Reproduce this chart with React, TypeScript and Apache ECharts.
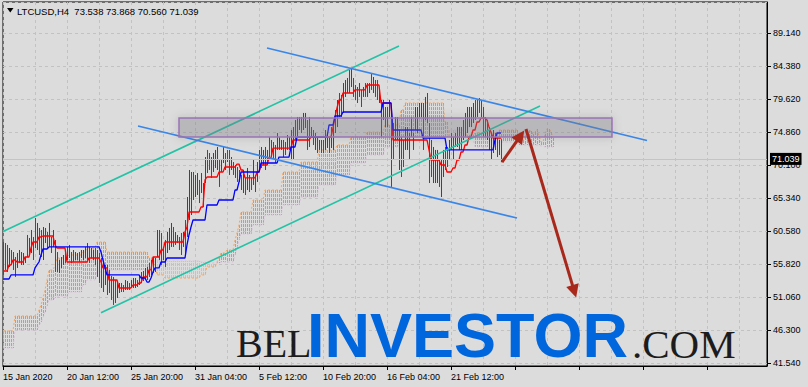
import React, { useEffect, useRef } from 'react';
import * as echarts from 'echarts';

// ---------- data ----------
const symbolName = 'LTCUSD,H4';
const lastQuote = [73.538, 73.868, 70.56, 71.039]; // O H L C of the last bar

const xLabels = ['15 Jan 2020', '20 Jan 12:00', '25 Jan 20:00', '31 Jan 04:00', '5 Feb 12:00', '10 Feb 20:00', '16 Feb 04:00', '21 Feb 12:00'];
const yLabels = ['41.540', '46.300', '51.060', '55.820', '60.580', '65.340', '70.100', '74.860', '79.620', '84.380', '89.140'];
const yTickBase = 41.54;
const yTickStep = 4.76;

// [open, high, low, close], one per H4 bar
const bars: number[][] = [
  [57.6, 59.05, 54.29, 55.7], [57.7, 58.9, 55.01, 56.2], [57.4, 58.62, 54.72, 55.9], [56.3, 58.18, 55.44, 57.4], [57.2, 57.89, 55.73, 56.4],
  [56.8, 57.6, 55.01, 55.8], [56.0, 56.88, 54.0, 54.9], [55.9, 57.46, 55.3, 56.8], [56.6, 57.89, 56.02, 57.3], [56.3, 57.6, 55.73, 57.0],
  [56.3, 57.46, 55.73, 56.9], [56.3, 56.88, 56.02, 56.6], [59.1, 60.06, 56.88, 57.8], [57.9, 59.63, 57.17, 58.9], [58.5, 60.78, 57.46, 59.8],
  [58.8, 59.77, 56.45, 57.4], [61.2, 62.51, 58.18, 59.5], [59.1, 61.79, 57.89, 60.6], [59.9, 61.07, 57.17, 58.3], [59.6, 60.78, 56.88, 58.1],
  [57.9, 61.21, 56.45, 59.8], [59.6, 61.07, 58.9, 60.4], [59.8, 60.49, 58.18, 58.9], [59.4, 61.79, 58.33, 60.8], [59.1, 59.77, 57.46, 58.2],
  [59.1, 60.78, 58.33, 60.0], [57.9, 59.34, 54.72, 56.1], [56.7, 57.6, 54.72, 55.6], [55.1, 56.45, 54.57, 55.9], [55.8, 56.88, 55.3, 56.4],
  [56.2, 57.17, 55.73, 56.7], [57.3, 57.89, 56.02, 56.6], [57.0, 58.33, 56.45, 57.8], [57.3, 58.62, 56.74, 58.1], [57.1, 57.6, 56.02, 56.5],
  [57.4, 57.89, 56.16, 56.7], [56.8, 57.6, 56.45, 57.3], [57.2, 57.46, 56.45, 56.7], [57.2, 57.6, 56.16, 56.6], [57.1, 57.89, 56.74, 57.6],
  [56.9, 57.89, 56.45, 57.5], [57.2, 58.33, 56.74, 57.9], [57.2, 58.9, 56.45, 58.2], [57.6, 58.33, 56.02, 56.7], [57.2, 58.18, 56.74, 57.8],
  [56.9, 57.89, 56.45, 57.5], [57.4, 58.18, 55.73, 56.5], [56.7, 57.89, 54.0, 55.2], [56.2, 57.46, 53.13, 54.4], [55.4, 56.74, 52.41, 53.7],
  [54.9, 56.16, 51.83, 53.1], [53.7, 55.73, 52.84, 54.9], [54.4, 55.73, 51.4, 52.7], [54.0, 55.01, 51.69, 52.7], [53.1, 54.14, 50.68, 51.7],
  [52.8, 54.0, 49.96, 51.2], [52.6, 53.56, 50.24, 51.2], [51.7, 53.27, 50.96, 52.6], [52.1, 53.13, 51.69, 52.7], [52.7, 53.13, 51.83, 52.2],
  [52.5, 52.84, 51.83, 52.1], [52.5, 53.56, 52.12, 53.1], [52.5, 53.42, 52.12, 53.0], [52.8, 53.13, 52.12, 52.4], [52.8, 53.56, 52.41, 53.2],
  [52.8, 53.85, 52.41, 53.4], [52.9, 53.85, 52.41, 53.5], [53.3, 53.56, 52.55, 52.8], [53.3, 54.29, 52.84, 53.9], [53.6, 54.72, 53.13, 54.3],
  [53.9, 54.86, 53.42, 54.4], [54.1, 55.3, 53.56, 54.8], [54.1, 55.44, 53.56, 54.9], [55.4, 56.02, 54.0, 54.6], [54.9, 56.45, 54.29, 55.8],
  [55.3, 56.88, 54.57, 56.2], [55.3, 56.74, 54.72, 56.1], [58.0, 60.78, 56.88, 59.6], [59.5, 60.78, 56.45, 57.7], [59.0, 60.35, 55.73, 57.1],
  [57.0, 58.33, 56.45, 57.8], [58.2, 59.34, 55.44, 56.6], [58.4, 60.49, 57.46, 59.6], [58.8, 61.07, 57.89, 60.1], [59.4, 61.79, 58.33, 60.8],
  [60.3, 61.21, 58.33, 59.2], [59.2, 60.49, 58.62, 59.9], [59.3, 60.06, 58.9, 59.7], [59.2, 59.77, 57.89, 58.5], [59.4, 60.35, 57.17, 58.1],
  [59.0, 60.49, 58.33, 59.8], [60.8, 62.22, 57.46, 58.9], [61.5, 65.54, 59.77, 63.8], [64.4, 69.44, 62.22, 67.3], [64.8, 69.15, 62.94, 67.3],
  [67.9, 69.15, 65.11, 66.3], [66.5, 68.72, 65.54, 67.8], [66.8, 69.0, 65.83, 68.0], [67.0, 68.0, 64.67, 65.7], [67.0, 69.0, 66.12, 68.1],
  [66.5, 67.56, 64.1, 65.1], [68.7, 71.31, 67.56, 70.2], [71.3, 72.33, 69.0, 70.0], [71.2, 71.89, 69.44, 70.2], [70.4, 71.31, 68.29, 69.2],
  [70.0, 71.89, 69.15, 71.1], [70.5, 72.33, 69.73, 71.5], [70.4, 72.76, 69.44, 71.8], [69.7, 70.88, 66.99, 68.2], [69.7, 70.88, 69.15, 70.4],
  [71.1, 72.76, 70.45, 72.1], [71.2, 71.89, 69.44, 70.2], [71.8, 72.33, 70.59, 71.1], [71.2, 72.33, 68.72, 69.8], [70.0, 71.31, 69.44, 70.8],
  [70.0, 70.59, 68.72, 69.3], [68.9, 70.16, 68.29, 69.6], [69.2, 69.87, 67.71, 68.4], [68.2, 69.44, 67.71, 68.9], [68.1, 68.72, 66.55, 67.2],
  [67.1, 69.44, 66.12, 68.4], [67.6, 68.29, 65.83, 66.6], [67.5, 69.73, 66.55, 68.8], [68.0, 68.72, 66.26, 67.0], [67.8, 68.29, 66.55, 67.1],
  [68.4, 70.88, 67.28, 69.8], [68.0, 68.72, 66.26, 67.0], [68.6, 70.59, 67.71, 69.7], [70.3, 72.33, 69.44, 71.5], [70.6, 72.76, 69.73, 71.9],
  [70.8, 72.33, 70.16, 71.7], [70.4, 72.76, 69.44, 71.8], [70.8, 72.33, 70.16, 71.7], [73.2, 74.2, 70.88, 71.9], [73.0, 73.77, 71.31, 72.0],
  [72.7, 73.48, 70.88, 71.7], [72.3, 73.05, 70.45, 71.2], [73.1, 74.78, 72.33, 74.0], [72.9, 74.2, 72.33, 73.6], [72.8, 73.77, 72.33, 73.3],
  [73.0, 73.77, 71.31, 72.0], [72.9, 73.48, 71.6, 72.2], [73.0, 74.49, 72.33, 73.8], [73.6, 74.2, 72.33, 72.9], [72.2, 75.21, 70.88, 73.9],
  [72.3, 75.64, 70.88, 74.2], [74.6, 76.66, 73.77, 75.8], [75.1, 77.09, 74.2, 76.2], [75.8, 77.09, 75.21, 76.5], [76.4, 77.09, 74.78, 75.5],
  [75.9, 77.67, 75.21, 76.9], [76.1, 77.67, 75.5, 77.0], [75.4, 76.66, 72.33, 73.6], [75.8, 77.09, 72.76, 74.1], [74.6, 75.64, 74.2, 75.2],
  [74.6, 75.21, 73.05, 73.7], [73.1, 74.78, 72.33, 74.0], [73.5, 74.2, 71.89, 72.6], [72.8, 73.77, 72.33, 73.3], [73.2, 73.77, 71.89, 72.5],
  [73.3, 73.77, 71.89, 72.4], [73.2, 75.21, 72.33, 74.3], [73.3, 74.78, 72.61, 74.1], [73.5, 74.2, 71.89, 72.6], [73.5, 75.64, 72.61, 74.7],
  [73.5, 76.22, 72.33, 75.0], [75.8, 78.1, 74.78, 77.1], [76.8, 79.54, 75.64, 78.4], [79.5, 80.55, 77.09, 78.1], [79.3, 80.27, 77.09, 78.0],
  [79.0, 81.99, 77.67, 80.7], [80.7, 82.43, 79.98, 81.7], [81.2, 82.72, 80.55, 82.1], [82.9, 83.87, 80.55, 81.5], [82.2, 84.16, 81.42, 83.3],
  [81.9, 82.72, 79.98, 80.8], [81.1, 81.71, 79.54, 80.2], [80.7, 81.42, 79.11, 79.8], [80.6, 81.99, 79.98, 81.4], [80.3, 80.99, 78.53, 79.3],
  [80.4, 81.42, 79.98, 81.0], [81.4, 81.99, 79.98, 80.6], [81.4, 81.99, 79.98, 80.6], [81.0, 81.99, 80.55, 81.6], [82.7, 83.44, 80.99, 81.7],
  [81.2, 82.86, 80.55, 82.2], [81.7, 82.43, 79.98, 80.7], [81.6, 82.43, 79.54, 80.4], [79.7, 80.99, 79.11, 80.4], [77.9, 79.54, 74.2, 75.8],
  [77.5, 79.54, 76.66, 78.7], [77.7, 78.53, 75.64, 76.5], [77.7, 78.53, 75.64, 76.5], [77.8, 79.54, 77.09, 78.8], [74.1, 77.09, 66.99, 70.0],
  [74.6, 76.22, 70.88, 72.5], [74.8, 77.09, 73.77, 76.1], [74.8, 77.09, 73.77, 76.1], [71.2, 75.21, 69.44, 73.5], [72.5, 74.2, 68.43, 70.2],
  [72.6, 73.77, 69.87, 71.0], [73.3, 75.64, 72.33, 74.6], [73.3, 75.64, 72.33, 74.6], [73.6, 74.78, 70.88, 72.1], [75.1, 77.09, 74.2, 76.2],
  [74.0, 74.78, 72.33, 73.1], [76.2, 78.53, 75.21, 77.5], [75.9, 78.53, 74.78, 77.4], [77.7, 79.11, 77.09, 78.5], [77.7, 79.11, 77.09, 78.5],
  [77.1, 79.11, 72.33, 74.4], [77.7, 79.98, 76.66, 79.0], [79.2, 80.55, 76.22, 77.5], [73.6, 76.22, 67.56, 70.2], [72.2, 73.77, 68.43, 70.0],
  [69.1, 72.76, 67.56, 71.2], [69.0, 72.33, 67.56, 70.9], [69.0, 72.33, 67.56, 70.9], [69.7, 70.88, 66.99, 68.2], [67.1, 70.88, 65.54, 69.3],
  [69.6, 72.33, 68.43, 71.2], [71.8, 72.76, 69.44, 70.4], [71.9, 72.76, 69.87, 70.7], [71.7, 73.77, 70.88, 72.9], [73.1, 74.78, 72.33, 74.0],
  [73.2, 74.2, 70.88, 71.9], [73.4, 74.78, 72.76, 74.2], [73.6, 75.64, 72.76, 74.8], [74.6, 75.64, 72.33, 73.3], [74.6, 75.64, 72.33, 73.3],
  [74.6, 76.66, 73.77, 75.8], [75.2, 77.67, 74.2, 76.6], [75.9, 78.53, 74.78, 77.4], [76.5, 78.53, 75.64, 77.7], [76.5, 78.53, 75.64, 77.7],
  [77.1, 79.11, 76.22, 78.2], [78.7, 79.54, 76.66, 77.5], [78.8, 79.54, 77.09, 77.8], [79.2, 79.83, 77.67, 78.3], [78.8, 79.54, 77.09, 77.8],
  [77.2, 78.53, 74.2, 75.5], [76.2, 77.09, 74.2, 75.1], [74.6, 76.66, 73.77, 75.8], [73.3, 75.64, 72.33, 74.6], [72.0, 74.78, 70.88, 73.6],
  [72.9, 75.21, 71.89, 74.2], [73.1, 74.78, 72.33, 74.0], [73.3, 74.2, 71.31, 72.2], [72.3, 73.77, 71.6, 73.5], [73.538, 73.868, 70.56, 71.039],
];

// Ichimoku Tenkan-sen (one per bar)
const tenkan = [
  54.86, 54.86, 54.86, 55.73, 55.73, 56.45, 56.45, 56.16, 56.16, 56.16,
  56.16, 56.88, 56.88, 56.88, 58.18, 59.05, 59.05, 59.05, 59.77, 59.77,
  59.91, 59.91, 59.91, 59.91, 59.91, 59.91, 58.62, 58.18, 58.18, 58.18,
  58.18, 58.18, 56.16, 56.16, 56.16, 56.16, 56.16, 56.16, 56.16, 56.16,
  56.16, 56.16, 56.16, 56.74, 56.74, 56.74, 56.74, 56.74, 56.74, 56.16,
  55.3, 55.3, 55.3, 53.56, 53.56, 53.56, 53.56, 53.56, 52.41, 52.41,
  52.41, 52.41, 52.41, 52.41, 52.41, 52.84, 52.84, 52.84, 53.13, 53.13,
  54.0, 54.0, 54.0, 55.01, 55.01, 56.88, 56.88, 56.88, 56.88, 57.89,
  57.89, 59.05, 59.05, 59.05, 59.05, 59.05, 59.05, 59.05, 59.05, 59.05,
  59.05, 60.49, 61.21, 63.38, 63.38, 63.38, 63.38, 63.38, 63.38, 64.1,
  64.1, 68.0, 68.43, 68.43, 68.43, 68.43, 68.43, 68.43, 69.15, 69.15,
  69.15, 69.87, 69.87, 69.87, 69.87, 69.87, 69.87, 70.3, 70.3, 69.44,
  69.44, 68.29, 68.29, 68.29, 68.29, 68.29, 68.29, 69.15, 69.15, 70.16,
  70.16, 70.16, 70.16, 71.17, 71.17, 72.61, 72.61, 72.61, 72.61, 72.61,
  72.61, 72.61, 72.61, 72.61, 72.61, 73.77, 73.77, 73.77, 73.77, 73.77,
  73.77, 73.77, 73.77, 73.77, 74.2, 74.2, 74.2, 74.2, 74.2, 74.2,
  74.2, 74.2, 74.2, 74.2, 74.2, 75.5, 77.09, 78.39, 79.54, 79.54,
  80.55, 80.55, 80.55, 80.55, 80.55, 80.55, 80.99, 80.99, 80.99, 80.99,
  80.99, 80.99, 81.71, 81.71, 81.71, 81.71, 81.71, 81.71, 81.71, 79.11,
  79.11, 79.11, 79.11, 79.11, 79.11, 73.77, 73.77, 73.77, 73.77, 73.77,
  73.77, 73.77, 73.77, 73.77, 73.77, 73.77, 73.77, 73.77, 73.77, 73.77,
  73.77, 73.77, 73.77, 72.33, 70.88, 70.88, 70.88, 70.88, 70.88, 70.16,
  70.16, 70.16, 69.15, 69.15, 69.15, 69.73, 69.73, 70.88, 70.88, 72.04,
  72.04, 73.05, 73.05, 74.2, 74.2, 75.21, 75.21, 76.37, 76.37, 76.94,
  76.94, 76.94, 76.66, 75.64, 74.92, 74.06, 74.06, 74.06, 74.06, 74.06,
];

// Ichimoku Kijun-sen (one per bar)
const kijun = [
  53.71, 53.71, 53.71, 53.71, 54.29, 54.29, 54.29, 54.29, 54.29, 54.29,
  54.29, 54.29, 54.29, 54.29, 54.29, 54.29, 55.3, 55.73, 56.16, 57.17,
  58.04, 58.04, 58.04, 58.33, 58.33, 58.33, 58.33, 58.33, 58.33, 58.33,
  58.33, 58.33, 58.33, 58.33, 58.33, 58.33, 58.33, 58.33, 58.33, 58.33,
  58.33, 58.33, 58.33, 58.33, 58.33, 58.33, 58.33, 58.33, 58.33, 57.6,
  56.45, 55.3, 54.29, 54.29, 54.29, 54.29, 54.29, 54.29, 54.29, 54.29,
  54.29, 54.29, 54.29, 54.29, 54.29, 54.29, 54.29, 54.29, 54.29, 53.85,
  53.85, 53.85, 53.27, 53.27, 53.85, 54.72, 55.3, 55.3, 55.3, 56.16,
  56.16, 56.16, 56.74, 56.74, 56.74, 56.74, 56.74, 56.74, 56.74, 56.74,
  56.74, 56.74, 58.62, 60.06, 61.21, 62.22, 62.22, 62.22, 62.22, 62.22,
  62.22, 62.22, 64.39, 64.39, 64.39, 64.39, 64.39, 64.39, 65.11, 65.11,
  65.11, 65.11, 65.11, 65.11, 65.11, 65.11, 66.55, 66.55, 67.71, 69.15,
  69.15, 69.15, 69.15, 69.15, 69.15, 69.15, 69.15, 69.15, 69.15, 70.45,
  70.45, 70.45, 70.45, 70.45, 70.45, 70.45, 70.45, 70.45, 71.31, 71.31,
  71.31, 71.31, 71.31, 71.31, 72.76, 72.76, 72.76, 74.2, 74.2, 74.2,
  74.2, 74.2, 74.2, 74.2, 74.2, 74.2, 74.2, 74.2, 74.2, 74.2,
  74.2, 74.2, 74.2, 75.93, 75.93, 75.93, 77.23, 77.23, 77.23, 77.23,
  77.81, 77.81, 77.81, 77.81, 77.81, 77.81, 77.81, 77.81, 77.81, 77.81,
  77.81, 77.81, 77.81, 77.81, 77.81, 77.81, 77.81, 77.81, 77.81, 77.81,
  79.11, 79.11, 79.11, 79.11, 79.11, 75.21, 75.21, 75.21, 75.21, 75.21,
  75.21, 75.21, 75.21, 75.21, 75.21, 75.21, 75.21, 75.21, 75.21, 75.21,
  74.06, 74.06, 74.06, 74.06, 74.06, 74.06, 74.06, 74.06, 74.06, 74.06,
  74.06, 74.06, 72.33, 72.33, 72.33, 72.33, 72.33, 72.33, 72.33, 72.33,
  72.33, 72.33, 72.33, 72.33, 72.33, 72.33, 72.33, 72.33, 72.33, 72.33,
  72.33, 72.33, 72.33, 72.33, 72.33, 72.33, 73.77, 74.78, 74.78, 74.78,
];

// Senkou Span A / B (already shifted 26 bars ahead: 276 values)
const spanA = [
  46.2, 46.2, 46.2, 46.2, 46.2, 46.2, 48.37, 48.37, 48.37, 48.37,
  48.37, 48.37, 48.37, 48.37, 48.37, 48.37, 48.37, 48.37, 49.23, 49.96,
  50.96, 52.12, 53.56, 55.01, 55.01, 55.01, 55.73, 56.74, 56.74, 56.74,
  56.74, 56.74, 56.74, 57.17, 57.17, 57.17, 57.17, 57.17, 57.17, 57.17,
  57.6, 57.6, 58.18, 58.18, 58.18, 58.18, 58.18, 59.05, 59.05, 59.05,
  59.05, 59.05, 57.6, 57.6, 57.6, 57.6, 57.6, 57.6, 57.6, 57.6,
  57.6, 57.6, 57.6, 57.6, 57.6, 57.6, 57.6, 57.6, 57.6, 57.6,
  57.6, 57.6, 57.6, 56.74, 56.74, 56.74, 55.73, 54.29, 54.29, 54.29,
  54.29, 53.85, 53.85, 53.85, 53.85, 53.85, 53.85, 53.85, 53.85, 53.85,
  53.85, 53.85, 53.85, 53.85, 53.85, 53.85, 53.85, 53.85, 53.85, 54.29,
  54.29, 54.29, 55.44, 55.44, 55.44, 55.44, 55.44, 56.16, 56.74, 57.46,
  57.46, 57.46, 57.89, 57.89, 57.89, 57.89, 59.34, 60.35, 61.5, 63.38,
  63.38, 63.38, 63.38, 63.38, 63.38, 65.11, 65.11, 65.11, 65.11, 65.11,
  65.11, 66.55, 66.55, 66.55, 66.55, 66.55, 66.55, 66.55, 66.55, 66.55,
  69.15, 69.15, 69.15, 69.15, 69.15, 69.15, 69.15, 69.15, 69.15, 70.59,
  70.59, 70.59, 70.59, 70.59, 70.59, 70.59, 70.59, 70.59, 72.33, 72.33,
  72.33, 72.33, 72.33, 72.33, 72.33, 72.33, 72.33, 73.05, 73.05, 73.05,
  73.05, 73.05, 73.05, 73.05, 74.2, 74.2, 74.2, 74.2, 74.2, 74.2,
  74.2, 74.2, 74.92, 74.92, 74.92, 74.92, 74.92, 74.92, 74.92, 74.92,
  74.92, 75.93, 75.93, 75.93, 75.93, 75.93, 75.93, 75.93, 75.93, 78.1,
  78.1, 79.11, 79.11, 79.11, 79.11, 79.11, 79.11, 79.11, 79.11, 79.11,
  79.11, 79.11, 79.11, 79.11, 79.11, 79.11, 79.11, 79.11, 79.11, 79.11,
  79.11, 76.37, 76.37, 74.2, 74.2, 74.2, 74.2, 74.2, 74.2, 74.2,
  74.2, 74.49, 74.49, 74.49, 74.49, 74.49, 74.78, 74.78, 74.78, 74.78,
  74.78, 74.78, 74.78, 74.78, 74.78, 74.78, 74.78, 74.78, 75.21, 75.21,
  75.21, 75.21, 75.21, 75.21, 75.21, 75.21, 75.21, 75.21, 73.77, 73.77,
  73.77, 74.2, 74.9, 75.2, 75.0, 74.6, 74.9, 75.3, 74.4, 73.48,
  73.48, 74.6, 75.4, 75.4, 74.9, 74.1,
];
const spanB = [
  43.75, 43.75, 43.75, 43.75, 43.75, 43.75, 46.35, 46.35, 46.35, 46.35,
  46.35, 46.35, 46.35, 46.35, 46.35, 46.35, 46.35, 46.35, 46.92, 47.5,
  48.08, 48.94, 49.81, 50.68, 50.68, 50.68, 50.96, 51.25, 51.25, 51.25,
  51.25, 51.25, 51.25, 51.83, 51.83, 51.83, 51.83, 51.83, 51.83, 51.83,
  52.84, 52.84, 53.56, 53.56, 53.56, 53.56, 53.56, 54.72, 54.72, 54.72,
  54.72, 54.72, 55.01, 55.01, 55.01, 55.01, 55.01, 55.01, 55.01, 55.01,
  55.01, 55.01, 55.01, 55.01, 55.01, 55.01, 55.01, 55.01, 55.01, 55.01,
  55.01, 55.01, 55.01, 55.58, 55.58, 55.58, 56.16, 56.45, 56.45, 56.45,
  56.45, 56.3, 56.3, 56.3, 56.3, 56.3, 56.3, 56.3, 56.3, 56.3,
  56.3, 56.3, 56.3, 56.3, 56.3, 56.3, 56.3, 56.3, 56.3, 56.16,
  56.16, 56.16, 56.02, 56.02, 56.02, 56.02, 56.02, 56.02, 56.02, 56.16,
  56.16, 56.16, 56.16, 56.16, 56.16, 56.16, 57.17, 58.18, 59.34, 60.2,
  60.2, 60.2, 60.2, 60.2, 60.2, 61.5, 61.5, 61.5, 61.5, 61.5,
  61.5, 62.94, 62.94, 62.94, 62.94, 62.94, 62.94, 62.94, 62.94, 62.94,
  64.39, 64.39, 64.39, 64.39, 64.39, 64.39, 64.39, 64.39, 64.39, 65.54,
  65.54, 65.54, 65.54, 65.54, 65.54, 65.54, 65.54, 65.54, 67.28, 67.28,
  67.28, 67.28, 67.28, 67.28, 67.28, 67.28, 67.28, 68.72, 68.72, 68.72,
  68.72, 68.72, 68.72, 68.72, 70.45, 70.45, 70.45, 70.45, 70.45, 70.45,
  70.45, 70.45, 71.6, 71.6, 71.6, 71.6, 71.6, 71.6, 71.6, 71.6,
  71.6, 72.76, 72.76, 72.76, 72.76, 72.76, 72.76, 72.76, 72.76, 74.2,
  74.2, 74.2, 74.2, 74.2, 74.2, 74.2, 74.2, 74.2, 74.2, 74.2,
  74.2, 74.2, 74.2, 74.2, 74.2, 74.2, 74.2, 74.2, 74.2, 74.2,
  74.2, 74.2, 74.2, 75.21, 75.21, 75.21, 75.21, 75.21, 75.21, 75.21,
  75.21, 74.06, 74.06, 74.06, 74.06, 74.06, 72.76, 72.76, 72.76, 72.76,
  72.76, 72.76, 72.76, 72.76, 72.76, 72.76, 72.76, 72.76, 73.48, 73.48,
  73.48, 73.48, 73.48, 73.48, 73.48, 73.48, 73.48, 73.48, 73.05, 73.05,
  73.05, 73.05, 73.05, 73.05, 73.05, 73.05, 73.05, 73.05, 73.05, 72.9,
  72.9, 72.76, 72.76, 72.76, 72.76, 72.76,
];

// hand-drawn objects, in [bar index, price]
const greenChannel = [[[0, 60.55], [198, 87.34]], [[49, 48.84], [268.5, 78.68]]];
const blueChannel = [[[132, 87.05], [322, 73.7]], [[67.5, 75.79], [257, 62.51]]];
const zoneBox = [[88, 76.94], [304.5, 74.2]];
const arrowLines = [[[249.5, 70.59], [258.75, 74.36]], [[261.5, 75.36], [285.65, 51.93]]];

// ---------- chart ----------
const X_MAX = 382;
const Y_MIN = 41.15;
const Y_MAX = 93.686;
const AXIS_FONT = "'Liberation Sans', Arial, sans-serif";

function buildOption() {
  const uMin = (Y_MIN - yTickBase) / yTickStep;
  const uMax = (Y_MAX - yTickBase) / yTickStep;

  const barRender = (params: any, api: any) => {
    const i = api.value(0);
    const o = api.value(1);
    const h = api.value(2);
    const l = api.value(3);
    const c = api.value(4);
    const ph = api.coord([i, h]);
    const pl = api.coord([i, l]);
    const x = Math.round(ph[0]) + 0.5;
    return {
      type: 'line',
      shape: { x1: x, y1: ph[1], x2: x, y2: pl[1] },
      style: { stroke: c >= o ? '#2F4F4F' : '#FF0000', lineWidth: 1 },
    };
  };

  const cloudRender = (params: any, api: any) => {
    const j = api.value(0);
    const a = api.value(1);
    const b = api.value(2);
    const pa = api.coord([j, a]);
    const pb = api.coord([j, b]);
    const x = Math.round(pa[0]) + 0.5;
    return {
      type: 'line',
      shape: { x1: x, y1: Math.round(pa[1]), x2: x, y2: Math.round(pb[1]) },
      style: { stroke: a >= b ? '#F2913F' : '#D4B6D6', lineWidth: 1, lineDash: [3, 1] },
    };
  };

  const seg = (pairs: number[][][]) => pairs.map(([a, b]) => [{ coord: a }, { coord: b }]);

  return {
    animation: false,
    backgroundColor: '#dcdcdc',
    grid: {
      left: 3, top: 2, width: 764, height: 364,
      show: true, borderColor: '#000', borderWidth: 1, backgroundColor: 'transparent',
      containLabel: false, outerBoundsMode: 'none',
    },
    xAxis: [
      {
        type: 'value', min: 0, max: X_MAX, interval: 32, position: 'bottom',
        axisLine: { show: true, onZero: false, lineStyle: { color: '#000', width: 1 } },
        axisTick: { show: true, length: 4, lineStyle: { color: '#000' } },
        axisLabel: {
          show: true, align: 'left', margin: 6, color: '#000', fontSize: 9, fontFamily: AXIS_FONT,
          showMaxLabel: false, hideOverlap: false,
          formatter: (v: number) => {
            const k = Math.round(v / 32);
            return Math.abs(v / 32 - k) < 1e-6 && xLabels[k] !== undefined ? xLabels[k] : '';
          },
        },
        splitLine: { show: false },
      },
      {
        type: 'value', min: 0, max: X_MAX, interval: 16, position: 'bottom',
        axisLine: { show: false }, axisTick: { show: false }, axisLabel: { show: false },
        splitLine: { show: true, lineStyle: { color: '#c2c2c2', width: 1, type: [3, 3] } },
      },
    ],
    yAxis: [
      { type: 'value', min: Y_MIN, max: Y_MAX, show: false, splitLine: { show: false } },
      {
        type: 'value', min: uMin, max: uMax, minInterval: 1, maxInterval: 1, position: 'right',
        axisLine: { show: true, onZero: false, lineStyle: { color: '#000', width: 1 } },
        axisTick: { show: true, length: 4, lineStyle: { color: '#000' } },
        axisLabel: {
          show: true, margin: 6, color: '#000', fontSize: 9, fontFamily: AXIS_FONT,
          showMinLabel: false, showMaxLabel: false,
          formatter: (u: number) => {
            const k = Math.round(u);
            return Math.abs(u - k) < 1e-6 && yLabels[k] !== undefined ? yLabels[k] : '';
          },
        },
        splitLine: { show: true, lineStyle: { color: '#c2c2c2', width: 1, type: [3, 3] } },
      },
    ],
    series: [
      {
        type: 'custom', name: 'cloud', xAxisIndex: 0, yAxisIndex: 0, z: 1, silent: true, clip: true,
        data: spanA.map((a, j) => [j, a, spanB[j]]),
        encode: { x: 0, y: [1, 2] },
        renderItem: cloudRender,
      },
      {
        type: 'line', name: 'spanA', xAxisIndex: 0, yAxisIndex: 0, z: 1, silent: true, symbol: 'none',
        data: spanA.map((v, j) => [j, v]),
        lineStyle: { color: '#F4A460', width: 1, type: [2, 2] },
      },
      {
        type: 'line', name: 'spanB', xAxisIndex: 0, yAxisIndex: 0, z: 1, silent: true, symbol: 'none',
        data: spanB.map((v, j) => [j, v]),
        lineStyle: { color: '#D8BFD8', width: 1, type: [2, 2] },
      },
      {
        type: 'custom', name: 'bars', xAxisIndex: 0, yAxisIndex: 0, z: 2, silent: true, clip: true,
        data: bars.map((b, i) => [i, b[0], b[1], b[2], b[3]]),
        encode: { x: 0, y: [2, 3] },
        renderItem: barRender,
      },
      {
        type: 'line', name: 'tenkan', xAxisIndex: 0, yAxisIndex: 0, z: 3, silent: true, symbol: 'none',
        data: tenkan.map((v, i) => [i, v]),
        lineStyle: { color: '#FF0000', width: 1.3 },
      },
      {
        type: 'line', name: 'kijun', xAxisIndex: 0, yAxisIndex: 0, z: 3, silent: true, symbol: 'none',
        data: kijun.map((v, i) => [i, v]),
        lineStyle: { color: '#0000FF', width: 1.3 },
      },
      {
        type: 'line', name: 'price', xAxisIndex: 0, yAxisIndex: 0, z: 4, silent: true, data: [],
        markLine: {
          z: 4, silent: true, symbol: 'none', animation: false,
          lineStyle: { color: '#c4c4c4', width: 1, type: 'solid' },
          emphasis: { disabled: true },
          label: {
            show: true, position: 'end', distance: 3, formatter: lastQuote[3].toFixed(3),
            color: '#fff', backgroundColor: '#000', padding: [2, 2, 1, 2], fontSize: 9, fontFamily: AXIS_FONT,
          },
          data: [{ yAxis: lastQuote[3] }],
        },
      },
      {
        type: 'line', name: 'green', xAxisIndex: 0, yAxisIndex: 0, z: 5, silent: true, data: [],
        markLine: {
          z: 5, silent: true, symbol: 'none', animation: false, label: { show: false }, emphasis: { disabled: true },
          lineStyle: { color: '#22C3A6', width: 1.6, type: 'solid' },
          data: seg(greenChannel),
        },
      },
      {
        type: 'line', name: 'blue', xAxisIndex: 0, yAxisIndex: 0, z: 5, silent: true, data: [],
        markLine: {
          z: 5, silent: true, symbol: 'none', animation: false, label: { show: false }, emphasis: { disabled: true },
          lineStyle: { color: '#3A86E8', width: 1.6, type: 'solid' },
          data: seg(blueChannel),
        },
      },
      {
        type: 'line', name: 'zone', xAxisIndex: 0, yAxisIndex: 0, z: 6, silent: true, data: [],
        markArea: {
          z: 6, silent: true, animation: false, label: { show: false }, emphasis: { disabled: true },
          itemStyle: {
            color: 'rgba(128,128,140,0.30)', borderColor: '#9B74B4', borderWidth: 1.5,
            shadowBlur: 8, shadowColor: 'rgba(0,0,0,0.25)',
          },
          data: [[{ coord: zoneBox[0] }, { coord: zoneBox[1] }]],
        },
      },
      {
        type: 'line', name: 'arrows', xAxisIndex: 0, yAxisIndex: 0, z: 7, silent: true, data: [],
        markLine: {
          z: 7, silent: true, symbol: ['none', 'triangle'], symbolSize: 13, animation: false,
          label: { show: false }, emphasis: { disabled: true },
          lineStyle: { color: '#A8281C', width: 3, type: 'solid', opacity: 1 },
          itemStyle: { color: '#A8281C' },
          data: seg(arrowLines),
        },
      },
    ],
    graphic: [
      { type: 'polygon', z: 20, shape: { points: [[7, 8], [13.5, 8], [10.25, 12.5]] }, style: { fill: '#000' } },
      {
        type: 'text', z: 20, x: 17, y: 11,
        style: {
          text: symbolName + '\u00A0\u00A0' + lastQuote.map((v) => v.toFixed(3)).join(' '),
          fill: '#000', font: "9.5px 'Liberation Sans', Arial, sans-serif",
          align: 'left', verticalAlign: 'middle', textAlign: 'left', textVerticalAlign: 'middle',
        },
      },
      {
        type: 'text', z: 20, x: 236, y: 343.5,
        style: {
          text: 'BEL', fill: '#1c1c1c', font: "40px 'Liberation Serif', 'Times New Roman', serif",
          align: 'left', verticalAlign: 'middle', textAlign: 'left', textVerticalAlign: 'middle',
        },
      },
      {
        type: 'text', z: 20, x: 307, y: 334.5,
        style: {
          text: 'INVESTOR', fill: '#0066DD', font: "bold 63px 'Liberation Sans', Arial, sans-serif",
          align: 'left', verticalAlign: 'middle', textAlign: 'left', textVerticalAlign: 'middle',
        },
      },
      {
        type: 'text', z: 20, x: 632, y: 343.5,
        style: {
          text: '.COM', fill: '#1c1c1c', font: "41px 'Liberation Serif', 'Times New Roman', serif",
          align: 'left', verticalAlign: 'middle', textAlign: 'left', textVerticalAlign: 'middle',
        },
      },
    ],
  };
}

export default function App() {
  const ref = useRef<HTMLDivElement>(null);
  useEffect(() => {
    if (!ref.current) return;
    const chart = echarts.init(ref.current, undefined, { renderer: 'svg' });
    chart.setOption(buildOption() as any);
    return () => {
      chart.dispose();
    };
  }, []);
  return (
    <div
      ref={ref}
      style={{ position: 'fixed', left: 0, top: 0, width: 808, height: 387, background: '#dcdcdc' }}
    />
  );
}
